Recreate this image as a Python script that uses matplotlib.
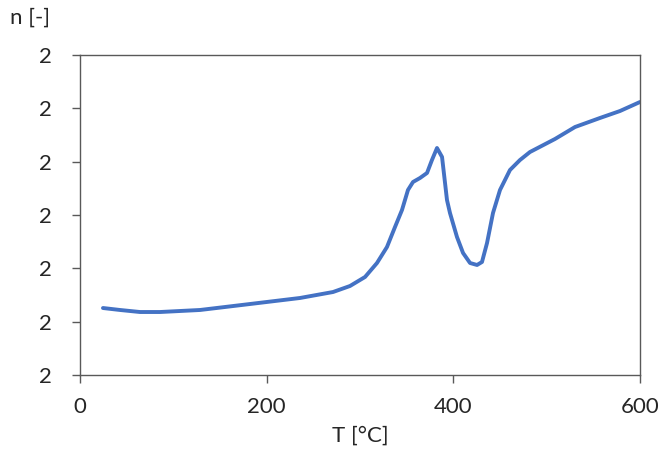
import matplotlib
matplotlib.use("Agg")
import matplotlib.pyplot as plt
from matplotlib.ticker import FormatStrFormatter

T = [24.6, 42.9, 64.3, 85.7, 128.6, 182.1, 235.7, 271.1, 289.3, 305.4, 318.2, 328.9,
     337.5, 345.0, 351.4, 356.8, 364.3, 371.8, 377.1, 382.5, 387.9, 393.2, 396.4, 403.9,
     410.4, 417.9, 425.4, 430.7, 436.1, 442.5, 450.0, 460.7, 471.4, 482.1, 508.9, 530.4,
     557.1, 578.6, 600.0]
n = [1.7256, 1.7219, 1.7181, 1.7181, 1.7219, 1.7331, 1.7444, 1.7556, 1.7669, 1.7838,
     1.8100, 1.8400, 1.8775, 1.9094, 1.9469, 1.9619, 1.9694, 1.9788, 2.0031, 2.0256,
     2.0088, 1.9281, 1.9038, 1.8588, 1.8288, 1.8100, 1.8063, 1.8119, 1.8475, 1.9038,
     1.9469, 1.9844, 2.0031, 2.0181, 2.0425, 2.0650, 2.0819, 2.0950, 2.1119]
x_ticks = [0, 200, 400, 600]
y_ticks = [1.6, 1.7, 1.8, 1.9, 2.0, 2.1, 2.2]

plt.rcParams['font.family'] = ['Lato', 'DejaVu Sans']
fig = plt.figure(figsize=(6.62, 4.57), dpi=100)
ax = fig.add_axes([80/662, 82/457, 560/662, 320/457])
ax.plot(T, n, color='#4472C4', lw=2.8, solid_capstyle='round', solid_joinstyle='round')
ax.set_xlim(0, 600)
ax.set_ylim(1.6, 2.2)
ax.set_xticks(x_ticks)
ax.set_yticks(y_ticks)
ax.yaxis.set_major_formatter(FormatStrFormatter('%.0f'))
for s in ax.spines.values():
    s.set_color('#595959')
    s.set_linewidth(1.0)
ax.tick_params(axis='both', colors='#595959', labelcolor='#262626', labelsize=16,
               length=6, width=1.0, direction='out')
ax.tick_params(axis='y', pad=14)
ax.tick_params(axis='x', pad=10)
ax.set_xlabel('T [°C]', fontsize=16, color='#262626', labelpad=6)
fig.text(10/662, 1 - 18/457, 'n [-]', fontsize=16, color='#262626', va='center', ha='left')
fig.savefig('out.png', dpi=100)
